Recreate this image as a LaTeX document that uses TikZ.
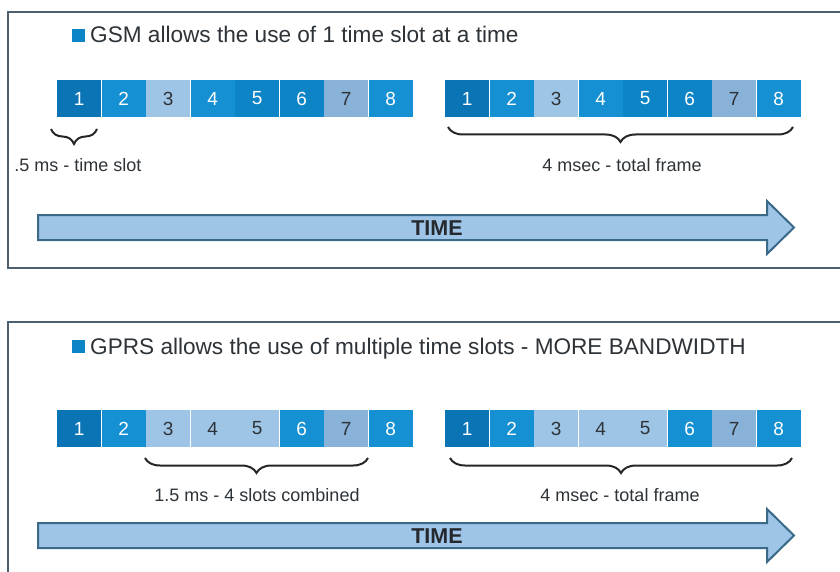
\documentclass[tikz,border=0pt]{standalone}
\usepackage{fontspec}
\setmainfont{Liberation Sans}
\usetikzlibrary{decorations.pathreplacing}
\definecolor{sdark}{HTML}{0B74B5}
\definecolor{smid}{HTML}{1590D2}
\definecolor{smid2}{HTML}{0D84C6}
\definecolor{slight}{HTML}{9FC5E6}
\definecolor{slight2}{HTML}{88B2D8}
\definecolor{frameln}{HTML}{4C6070}
\definecolor{arrowfill}{HTML}{9EC4E8}
\definecolor{arrowln}{HTML}{3A6A88}
\definecolor{txt}{HTML}{2E3338}
\tikzset{
  slotbox/.style={minimum width=44.1pt,minimum height=37pt,inner sep=0pt,anchor=west,font=\fontsize{19}{19}\selectfont},
  hi/.style={slotbox,text=white},
  lo/.style={slotbox,text=txt},
  bracestyle/.style={decorate,decoration={brace,mirror,amplitude=15pt},line width=2pt,black!85},
  lbl/.style={font=\fontsize{18}{18}\selectfont,text=txt,inner sep=0pt},
  ttl/.style={font=\fontsize{22.6}{23}\selectfont,text=txt,inner sep=0pt,anchor=base west},
  framestyle/.style={draw=frameln,line width=2pt},
  arr/.style={draw=arrowln,fill=arrowfill,line width=2pt,line join=miter},
  timelbl/.style={font=\bfseries\fontsize{21.5}{22}\selectfont,text=txt!80!black,inner sep=0pt}
}
\begin{document}
\begin{tikzpicture}[x=1pt,y=-1pt]
\useasboundingbox (0,0) rectangle (840,572);
\fill[white] (0,0) rectangle (840,572);
% panels
\draw[framestyle] (850,12) -- (8,12) -- (8,268) -- (850,268);
\draw[framestyle] (850,322) -- (8,322) -- (8,590);
% titles
\fill[smid2] (72,29) rectangle (85,42);
\node[ttl] (t1) at (90,43) {GSM allows the use of 1 time slot at a time};
\fill[smid2] (72,340) rectangle (85,353);
\node[ttl] (t2) at (90,354) {GPRS allows the use of multiple time slots - MORE BANDWIDTH};
% top slots left
\node[hi,fill=sdark] (a1) at (57,98.5) {1};
\node[hi,fill=smid] (a2) at (a1.east) {2};
\node[lo,fill=slight] (a3) at (a2.east) {3};
\node[hi,fill=smid] (a4) at (a3.east) {4};
\node[hi,fill=smid2] (a5) at (a4.east) {5};
\node[hi,fill=smid2] (a6) at (a5.east) {6};
\node[lo,fill=slight2] (a7) at (a6.east) {7};
\node[hi,fill=smid] (a8) at (a7.east) {8};
% top slots right
\node[hi,fill=sdark] (b1) at (445,98.5) {1};
\node[hi,fill=smid] (b2) at (b1.east) {2};
\node[lo,fill=slight] (b3) at (b2.east) {3};
\node[hi,fill=smid] (b4) at (b3.east) {4};
\node[hi,fill=smid2] (b5) at (b4.east) {5};
\node[hi,fill=smid2] (b6) at (b5.east) {6};
\node[lo,fill=slight2] (b7) at (b6.east) {7};
\node[hi,fill=smid] (b8) at (b7.east) {8};
% bottom slots left
\node[hi,fill=sdark] (c1) at (57,428.5) {1};
\node[hi,fill=smid] (c2) at (c1.east) {2};
\node[lo,fill=slight] (c3) at (c2.east) {3};
\node[lo,fill=slight] (c4) at (c3.east) {4};
\node[lo,fill=slight] (c5) at (c4.east) {5};
\node[hi,fill=smid] (c6) at (c5.east) {6};
\node[lo,fill=slight2] (c7) at (c6.east) {7};
\node[hi,fill=smid] (c8) at (c7.east) {8};
% bottom slots right
\node[hi,fill=sdark] (d1) at (445,428.5) {1};
\node[hi,fill=smid] (d2) at (d1.east) {2};
\node[lo,fill=slight] (d3) at (d2.east) {3};
\node[lo,fill=slight] (d4) at (d3.east) {4};
\node[lo,fill=slight] (d5) at (d4.east) {5};
\node[hi,fill=smid] (d6) at (d5.east) {6};
\node[lo,fill=slight2] (d7) at (d6.east) {7};
\node[hi,fill=smid] (d8) at (d7.east) {8};
% braces
\coordinate (ba1) at (51,129);
\coordinate (ba2) at (97,129);
\draw[bracestyle] (ba1) -- (ba2);
\node[lbl] (la) at (78,165) {.5 ms - time slot};
\coordinate (bb1) at (448,127);
\coordinate (bb2) at (793,127);
\draw[bracestyle] (bb1) -- (bb2);
\node[lbl] (lb) at (622,165) {4 msec - total frame};
\coordinate (bc1) at (145,458);
\coordinate (bc2) at (368,458);
\draw[bracestyle] (bc1) -- (bc2);
\node[lbl] (lc) at (257,495) {1.5 ms - 4 slots combined};
\coordinate (bd1) at (450,458);
\coordinate (bd2) at (792,458);
\draw[bracestyle] (bd1) -- (bd2);
\node[lbl] (ld) at (620,495) {4 msec - total frame};
% arrows
\draw[arr] (38,215) -- (767,215) -- (767,201) -- (794,227.5) -- (767,254) -- (767,240) -- (38,240) -- cycle;
\node[timelbl] (time1) at (437,228) {TIME};
\draw[arr] (38,523) -- (767,523) -- (767,509) -- (794,535.5) -- (767,562) -- (767,548) -- (38,548) -- cycle;
\node[timelbl] (time2) at (437,536) {TIME};
\end{tikzpicture}
\end{document}
